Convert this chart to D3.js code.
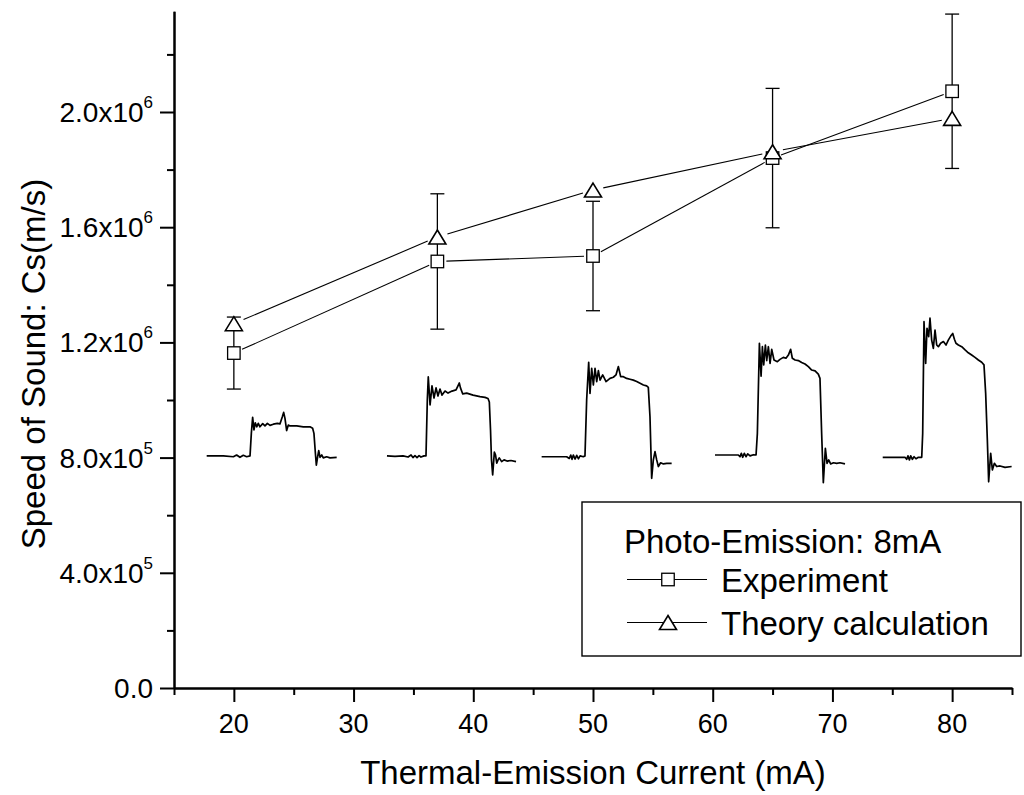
<!DOCTYPE html>
<html>
<head>
<meta charset="utf-8">
<script src="https://cdn.jsdelivr.net/npm/d3@7"></script>
<style>
  html, body { margin: 0; padding: 0; background: #fff; }
  svg { display: block; }
  text { font-family: "Liberation Sans", Arial, Helvetica, sans-serif; fill: #000; }
</style>
</head>
<body>
<svg id="chart" width="1024" height="795"></svg>
<script>
// ---------------- DATA ----------------
const currents = [20, 37, 50, 65, 80];                       // Thermal-emission current (mA)
const experiment = [1.163e6, 1.481e6, 1.500e6, 1.840e6, 2.072e6];   // m/s
const experimentErr = [0.125e6, 0.235e6, 0.190e6, 0.242e6, 0.268e6];
const theory = [1.265e6, 1.566e6, 1.729e6, 1.862e6, 1.978e6];

const xMajorTicks = [20, 30, 40, 50, 60, 70, 80];
const xMinorTicks = [15, 25, 35, 45, 55, 65, 75, 85];
const yMajorTicks = [0, 4e5, 8e5, 1.2e6, 1.6e6, 2.0e6];
const yMinorTicks = [2e5, 6e5, 1.0e6, 1.4e6, 1.8e6, 2.2e6];
const yTickMantissa = ["0.0", "4.0x10", "8.0x10", "1.2x10", "1.6x10", "2.0x10"];
const yTickExponent = ["", "5", "5", "6", "6", "6"];

const xTitle = "Thermal-Emission Current (mA)";
const yTitle = "Speed of Sound: Cs(m/s)";
const legendTitle = "Photo-Emission: 8mA";
const seriesNames = ["Experiment", "Theory calculation"];

// Oscilloscope pulse traces drawn inside the plot: [current (mA), value (x1e5 m/s)]
const pulse1 = [[17.73,8.06],[19.12,8.06],[19.96,8.03],[20.23,8.09],[20.51,8.01],[20.79,8.08],[21.07,8.03],[21.35,8.06],
  [21.46,8.84],[21.57,9.40],[21.68,8.96],[21.79,9.21],[21.91,9.07],[22.04,9.19],[22.18,9.07],[22.41,9.18],[22.60,9.10],
  [22.80,9.19],[23.02,9.12],[23.30,9.16],[23.63,9.19],[23.85,9.17],[24.05,9.42],[24.16,9.57],[24.27,9.36],[24.41,8.94],
  [24.55,9.13],[24.69,9.10],[25.25,9.10],[25.80,9.07],[26.36,9.07],[26.58,9.02],[26.69,8.84],[26.81,8.15],[26.89,7.74],
  [27.00,8.03],[27.09,8.24],[27.20,8.01],[27.34,8.09],[27.47,7.99],[27.75,8.03],[28.03,7.99],[28.59,8.01]];
const pulse2 = [[32.79,8.06],[33.46,8.04],[34.13,8.06],[34.55,8.02],[34.80,8.09],[34.96,8.00],[35.13,8.07],[35.30,8.00],
  [35.47,8.07],[35.63,8.02],[35.88,8.06],[36.05,8.06],[36.16,10.00],[36.24,10.80],[36.39,9.83],[36.55,10.49],[36.72,10.07],
  [36.89,10.42],[37.05,10.14],[37.22,10.38],[37.39,10.17],[37.64,10.31],[37.89,10.24],[38.22,10.31],[38.56,10.35],
  [38.72,10.49],[38.83,10.59],[38.93,10.42],[39.12,10.21],[39.45,10.24],[39.98,10.17],[40.56,10.12],[40.98,10.09],
  [41.23,10.05],[41.34,9.93],[41.44,8.96],[41.52,7.92],[41.62,7.40],[41.76,8.19],[41.86,8.09],[41.96,7.81],[42.07,7.92],
  [42.17,7.99],[42.37,7.86],[42.57,7.92],[42.82,7.88],[43.15,7.90],[43.57,7.86]];
const pulse3 = [[45.71,8.03],[47.80,8.03],[48.02,7.97],[48.14,8.09],[48.25,7.94],[48.36,8.09],[48.50,7.95],[48.64,8.08],
  [48.78,7.96],[48.92,8.06],[49.19,8.03],[49.33,8.06],[49.47,10.00],[49.64,11.31],[49.75,10.23],[49.89,11.10],[50.03,10.52],
  [50.17,11.10],[50.31,10.64],[50.45,11.02],[50.59,10.69],[50.81,10.87],[51.09,10.64],[51.42,10.75],[51.70,10.79],
  [51.92,10.87],[52.12,11.16],[52.31,10.81],[52.54,10.81],[52.81,10.75],[53.09,10.72],[53.37,10.69],[53.65,10.64],
  [53.93,10.58],[54.21,10.52],[54.48,10.49],[54.62,10.44],[54.76,9.42],[54.90,7.28],[55.04,7.92],[55.18,8.21],[55.32,7.92],
  [55.46,7.69],[55.65,7.82],[55.88,7.78],[56.16,7.80],[56.57,7.80]];
const pulse4 = [[60.19,8.09],[62.14,8.09],[62.28,8.03],[62.39,8.15],[62.50,8.01],[62.64,8.15],[62.78,8.03],[62.92,8.13],
  [63.12,8.06],[63.40,8.10],[63.62,8.09],[63.73,8.84],[63.90,11.97],[64.04,10.83],[64.15,11.85],[64.26,11.22],[64.40,11.91],
  [64.51,11.37],[64.65,11.85],[64.79,11.27],[64.93,11.76],[65.12,11.39],[65.40,11.33],[65.62,11.41],[65.90,11.48],
  [66.12,11.45],[66.32,11.56],[66.51,11.76],[66.65,11.45],[66.88,11.39],[67.15,11.37],[67.43,11.30],[67.71,11.25],
  [67.99,11.16],[68.27,11.04],[68.55,11.01],[68.82,10.90],[68.96,10.75],[69.10,8.84],[69.24,7.13],[69.41,8.32],[69.55,7.80],
  [69.69,7.92],[69.85,7.78],[70.08,7.82],[70.36,7.80],[70.63,7.82],[71.05,7.78]];
const pulse5 = [[74.20,8.01],[76.06,8.01],[76.20,7.94],[76.31,8.06],[76.43,7.92],[76.54,8.06],[76.68,7.94],[76.82,8.03],
  [76.98,7.96],[77.18,8.01],[77.46,8.01],[77.54,8.84],[77.65,12.72],[77.79,11.27],[77.90,12.49],[78.04,12.20],[78.15,12.84],
  [78.29,12.08],[78.43,11.79],[78.57,12.43],[78.71,11.91],[78.85,11.85],[79.04,11.97],[79.27,12.03],[79.49,11.91],
  [79.68,12.08],[79.88,12.22],[80.05,12.31],[80.19,12.11],[80.32,11.97],[80.52,11.91],[80.80,11.85],[81.08,11.74],
  [81.35,11.64],[81.63,11.56],[81.91,11.48],[82.19,11.39],[82.47,11.31],[82.66,11.22],[82.80,10.23],[82.94,8.61],
  [83.05,7.16],[83.22,8.15],[83.36,7.57],[83.53,7.80],[83.72,7.69],[84.00,7.71],[84.42,7.66],[84.97,7.69]];
const pulses = [pulse1, pulse2, pulse3, pulse4, pulse5];

// ---------------- LAYOUT ----------------
const svg = d3.select("#chart");
const plot = { left: 174, right: 1012, top: 11.2, bottom: 688 };
const x = d3.scaleLinear().domain([15, 85]).range([plot.left, plot.right]);
const y = d3.scaleLinear().domain([0, 2.35e6]).range([plot.bottom, plot.top]);

// ---------------- PULSE TRACES ----------------
const pulseLine = d3.line().x(d => x(d[0])).y(d => y(d[1] * 1e5));
svg.append("g").selectAll("path").data(pulses).join("path")
  .attr("d", pulseLine)
  .attr("fill", "none").attr("stroke", "#000").attr("stroke-width", 1.7)
  .attr("stroke-linejoin", "round");

// ---------------- AXES ----------------
const axisStroke = 2;
const yAxisMajor = svg.append("g").attr("transform", `translate(${plot.left},0)`)
  .call(d3.axisLeft(y).tickValues(yMajorTicks).tickSize(14).tickSizeOuter(0).tickFormat(""));
const yAxisMinor = svg.append("g").attr("transform", `translate(${plot.left},0)`)
  .call(d3.axisLeft(y).tickValues(yMinorTicks).tickSize(7).tickSizeOuter(0).tickFormat(""));
const xAxisMajor = svg.append("g").attr("transform", `translate(0,${plot.bottom})`)
  .call(d3.axisBottom(x).tickValues(xMajorTicks).tickSize(14).tickSizeOuter(0).tickFormat(""));
const xAxisMinor = svg.append("g").attr("transform", `translate(0,${plot.bottom})`)
  .call(d3.axisBottom(x).tickValues(xMinorTicks).tickSize(7).tickSizeOuter(0).tickFormat(""));
[yAxisMajor, yAxisMinor, xAxisMajor, xAxisMinor].forEach(g => {
  g.selectAll("path.domain").attr("stroke", "#000").attr("stroke-width", axisStroke);
  g.selectAll(".tick line").attr("stroke", "#000").attr("stroke-width", axisStroke);
});

// y tick labels with superscript exponents
const yLab = svg.append("g").selectAll("text").data(yMajorTicks).join("text")
  .attr("x", 153).attr("y", d => y(d) + 10)
  .attr("text-anchor", "end").attr("font-size", 28);
yLab.append("tspan").text((d, i) => yTickMantissa[i]);
yLab.append("tspan").attr("font-size", 17).attr("dy", -14)
  .text((d, i) => yTickExponent[i]);

// x tick labels
svg.append("g").selectAll("text").data(xMajorTicks).join("text")
  .attr("x", d => x(d)).attr("y", 733)
  .attr("text-anchor", "middle").attr("font-size", 27)
  .text(d => d);

// axis titles
svg.append("text").attr("x", (plot.left + plot.right) / 2).attr("y", 784)
  .attr("text-anchor", "middle").attr("font-size", 33).text(xTitle);
svg.append("text").attr("transform", `translate(45,364) rotate(-90)`)
  .attr("text-anchor", "middle").attr("font-size", 33).text(yTitle);

// ---------------- SERIES ----------------
const expPts = currents.map((c, i) => [x(c), y(experiment[i])]);
const thPts = currents.map((c, i) => [x(c), y(theory[i])]);

function shortenedSegments(pts, gap) {
  const segs = [];
  for (let i = 0; i < pts.length - 1; i++) {
    const [x0, y0] = pts[i], [x1, y1] = pts[i + 1];
    const dx = x1 - x0, dy = y1 - y0, len = Math.hypot(dx, dy);
    segs.push([[x0 + dx * gap / len, y0 + dy * gap / len], [x1 - dx * gap / len, y1 - dy * gap / len]]);
  }
  return segs;
}
const segLine = d3.line();
svg.append("g").selectAll("path").data(shortenedSegments(expPts, 9)).join("path")
  .attr("d", segLine).attr("stroke", "#000").attr("stroke-width", 1.1).attr("fill", "none");
svg.append("g").selectAll("path").data(shortenedSegments(thPts, 10.5)).join("path")
  .attr("d", segLine).attr("stroke", "#000").attr("stroke-width", 1.1).attr("fill", "none");

// error bars (experiment)
const eb = svg.append("g").attr("stroke", "#000").attr("stroke-width", 1.3);
eb.selectAll("line.v").data(currents).join("line").attr("class", "v")
  .attr("x1", d => x(d)).attr("x2", d => x(d))
  .attr("y1", (d, i) => y(experiment[i] + experimentErr[i]))
  .attr("y2", (d, i) => y(experiment[i] - experimentErr[i]));
eb.selectAll("line.top").data(currents).join("line").attr("class", "top")
  .attr("x1", d => x(d) - 7).attr("x2", d => x(d) + 7)
  .attr("y1", (d, i) => y(experiment[i] + experimentErr[i]))
  .attr("y2", (d, i) => y(experiment[i] + experimentErr[i]));
eb.selectAll("line.bot").data(currents).join("line").attr("class", "bot")
  .attr("x1", d => x(d) - 7).attr("x2", d => x(d) + 7)
  .attr("y1", (d, i) => y(experiment[i] - experimentErr[i]))
  .attr("y2", (d, i) => y(experiment[i] - experimentErr[i]));

// markers
const sq = 12.5;
const triPath = "M0,-7 L8.5,7 L-8.5,7 Z";
svg.append("g").selectAll("rect").data(currents).join("rect")
  .attr("x", d => x(d) - sq / 2).attr("y", (d, i) => y(experiment[i]) - sq / 2)
  .attr("width", sq).attr("height", sq)
  .attr("fill", "#fff").attr("stroke", "#000").attr("stroke-width", 1.3);
svg.append("g").selectAll("path").data(currents).join("path")
  .attr("d", triPath)
  .attr("transform", (d, i) => `translate(${x(d)},${y(theory[i])})`)
  .attr("fill", "#fff").attr("stroke", "#000").attr("stroke-width", 1.6);

// ---------------- LEGEND ----------------
const lg = svg.append("g");
lg.append("rect").attr("x", 582).attr("y", 502).attr("width", 439).attr("height", 154)
  .attr("fill", "#fff").attr("stroke", "#000").attr("stroke-width", 1.4);
lg.append("text").attr("x", 624).attr("y", 553).attr("font-size", 33).text(legendTitle);
const rowsY = [579.5, 622.5];
rowsY.forEach((ry, i) => {
  lg.append("line").attr("x1", 627).attr("x2", 707).attr("y1", ry).attr("y2", ry)
    .attr("stroke", "#000").attr("stroke-width", 1.1);
  if (i === 0) {
    lg.append("rect").attr("x", 668 - sq / 2).attr("y", ry - sq / 2).attr("width", sq).attr("height", sq)
      .attr("fill", "#fff").attr("stroke", "#000").attr("stroke-width", 1.3);
  } else {
    lg.append("path").attr("d", triPath).attr("transform", `translate(668,${ry})`)
      .attr("fill", "#fff").attr("stroke", "#000").attr("stroke-width", 1.6);
  }
  lg.append("text").attr("x", 721).attr("y", ry + 12).attr("font-size", 33).text(seriesNames[i]);
});
</script>
</body>
</html>
